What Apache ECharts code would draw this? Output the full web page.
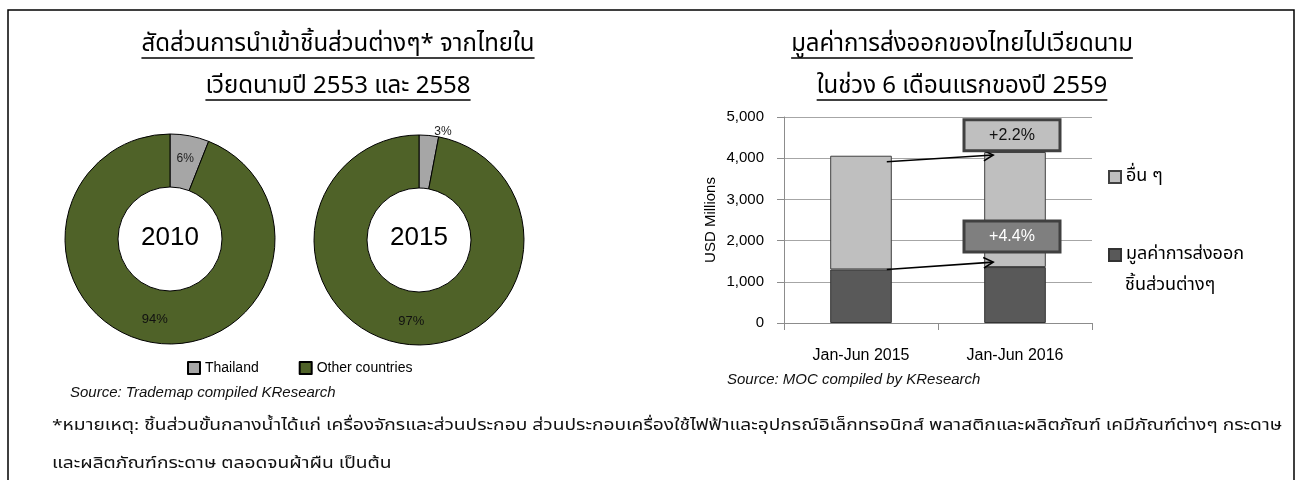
<!DOCTYPE html>
<html>
<head>
<meta charset="utf-8">
<script src="https://cdn.jsdelivr.net/npm/echarts@6/dist/echarts.min.js"></script>
<style>
html,body{margin:0;padding:0;background:#fff;}
#c{width:1298px;height:480px;}
</style>
</head>
<body>
<div id="c"></div>
<script>
// ---------- DATA ----------
const pieYears = ['2010', '2015'];
const pieNames = ['Thailand', 'Other countries'];
const pie2010 = [6, 94];
const pie2015 = [3, 97];
const barCategories = ['Jan-Jun 2015', 'Jan-Jun 2016'];
const partsExports = [1300, 1357];
const otherExports = [2760, 2793];
const barSeriesNames = ['มูลค่าการส่งออก\nชิ้นส่วนต่างๆ', 'อื่น ๆ'];
const growthLabels = ['+2.2%', '+4.4%'];
const leftTitle = ['สัดส่วนการนำเข้าชิ้นส่วนต่างๆ* จากไทยใน', 'เวียดนามปี 2553 และ 2558'];
const rightTitle = ['มูลค่าการส่งออกของไทยไปเวียดนาม', 'ในช่วง 6 เดือนแรกของปี 2559'];
const sourceLeft = 'Source: Trademap compiled KResearch';
const sourceRight = 'Source: MOC compiled by KResearch';
const footnote = ['*หมายเหตุ: ชิ้นส่วนขั้นกลางน้ำได้แก่ เครื่องจักรและส่วนประกอบ ส่วนประกอบเครื่องใช้ไฟฟ้าและอุปกรณ์อิเล็กทรอนิกส์ พลาสติกและผลิตภัณฑ์ เคมีภัณฑ์ต่างๆ กระดาษ',
                  'และผลิตภัณฑ์กระดาษ ตลอดจนผ้าผืน เป็นต้น'];

// ---------- STYLE ----------
const thaiFont = "'Noto Sans Thai','Noto Sans Thai UI','Noto Sans','DejaVu Sans',sans-serif";
const latin = "'Liberation Sans',Arial,sans-serif";
const pieColors = ['#a6a6a6', '#4f6228'];
const darkBar = '#595959', lightBar = '#bfbfbf';

const chart = echarts.init(document.getElementById('c'), null, {renderer: 'canvas'});

function pieSeries(center, values, outsideFirst) {
  return {
    type: 'pie',
    center: center,
    radius: [52, 105],
    startAngle: 90,
    clockwise: true,
    avoidLabelOverlap: false,
    silent: true,
    color: pieColors,
    itemStyle: {borderColor: '#000', borderWidth: 1},
    label: {show: true, position: 'inside', formatter: '{c}%', color: '#111', fontSize: 13, fontFamily: latin},
    labelLine: {show: false},
    emphasis: {disabled: true},
    data: values.map((v, i) => {
      const d = {value: v, name: pieNames[i]};
      if (i === 0) {
        d.label = outsideFirst
          ? {position: 'outside', fontSize: 12, color: '#222'}
          : {fontSize: 12, color: '#222'};
        if (outsideFirst) d.labelLine = {show: false, length: 4, length2: 0};
      }
      return d;
    })
  };
}

chart.setOption({
  animation: false,
  grid: {left: 784, right: 206, top: 117, bottom: 157, containLabel: false},
  legend: [
    {
      data: pieNames, left: 187, top: 361, padding: 0, icon: 'rect', itemWidth: 12, itemHeight: 12, itemGap: 40,
      textStyle: {fontSize: 14, fontFamily: latin, color: '#000'}, selectedMode: false
    },
    {
      data: [barSeriesNames[1]], left: 1108, top: 168, padding: 0, icon: 'rect', itemWidth: 12, itemHeight: 12,
      textStyle: {fontSize: 18, fontFamily: thaiFont, color: '#000'}, selectedMode: false
    },
    {
      data: [barSeriesNames[0]], left: 1108, top: 246, padding: 0, icon: 'rect', itemWidth: 12, itemHeight: 12,
      formatter: n => n.split('\n')[0],
      textStyle: {fontSize: 18, fontFamily: thaiFont, color: '#000'}, selectedMode: false
    }
  ],
  xAxis: {
    type: 'category', data: barCategories,
    axisLine: {lineStyle: {color: '#8c8c8c'}},
    axisTick: {show: true, length: 7, lineStyle: {color: '#8c8c8c'}},
    axisLabel: {fontSize: 16, fontFamily: latin, color: '#000', margin: 25}
  },
  yAxis: {
    type: 'value', min: 0, max: 5000, interval: 1000,
    name: 'USD Millions', nameLocation: 'middle', nameRotate: 90, nameGap: 66,
    nameTextStyle: {fontSize: 15, fontFamily: latin, color: '#000'},
    axisLine: {show: true, lineStyle: {color: '#8c8c8c'}},
    axisTick: {show: true, length: 7, lineStyle: {color: '#8c8c8c'}},
    axisLabel: {fontSize: 15, fontFamily: latin, color: '#000', margin: 20},
    splitLine: {lineStyle: {color: '#a6a6a6'}}
  },
  series: [
    pieSeries([170, 239], pie2010, false),
    pieSeries([419, 240], pie2015, true),
    {
      type: 'bar', name: barSeriesNames[0], stack: 'a', data: partsExports, barWidth: '40%',
      itemStyle: {color: darkBar, borderColor: '#333', borderWidth: 1}, silent: true
    },
    {
      type: 'bar', name: barSeriesNames[1], stack: 'a', data: otherExports, barWidth: '40%',
      itemStyle: {color: lightBar, borderColor: '#404040', borderWidth: 1}, silent: true
    }
  ]
});

// ---------- annotations (positions derived from the library's scales) ----------
function textWidth(t, font) {
  const ctx = document.createElement('canvas').getContext('2d');
  ctx.font = font;
  return ctx.measureText(t).width;
}
function txt(text, x, y, font, align, fill, sx) {
  return {type: 'text', silent: true, z: 20, x: x, y: y, scaleX: sx || 1, style: {
    text: text, x: 0, y: 0, font: font, fill: fill || '#000',
    align: align || 'left', textAlign: align || 'left',
    verticalAlign: 'middle', textVerticalAlign: 'middle'}};
}
const g = [];
// outer frame
g.push({type: 'rect', silent: true, z: 0, shape: {x: 8, y: 10, width: 1286, height: 500},
        style: {fill: 'none', stroke: '#000', lineWidth: 1.5}});
// titles with underline
const titleFont = "24px " + thaiFont;
function underlinedTitle(lines, cx) {
  lines.forEach((t, i) => {
    const y = 46 + i * 42;
    g.push(txt(t, cx, y, titleFont, 'center'));
    const w = textWidth(t, titleFont);
    g.push({type: 'line', silent: true, z: 20, shape: {x1: cx - w / 2, y1: y + 12, x2: cx + w / 2, y2: y + 12},
            style: {stroke: '#000', lineWidth: 1.3}});
  });
}
underlinedTitle(leftTitle, 338);
underlinedTitle(rightTitle, 962);
// donut centre years
g.push(txt(pieYears[0], 170, 238, "26px " + latin, 'center'));
g.push(txt(pieYears[1], 419, 238, "26px " + latin, 'center'));
// legend second line for the parts series
g.push(txt(barSeriesNames[0].split('\n')[1], 1125, 286, "18px " + thaiFont, 'left'));
// sources
g.push(txt(sourceLeft, 70, 393, "italic 15px " + latin, 'left', '#111'));
g.push(txt(sourceRight, 727, 380, "italic 15px " + latin, 'left', '#111'));
// footnote (stretched to the reference line length)
const fnFont = "15px " + thaiFont;
const fnScale = 1230 / textWidth(footnote[0], fnFont);
g.push(txt(footnote[0], 52, 427, fnFont, 'left', '#111', fnScale));
g.push(txt(footnote[1], 52, 465, fnFont, 'left', '#111', fnScale));

// bar-linked arrows & growth boxes
const p = (i, v) => chart.convertToPixel({gridIndex: 0}, [i, v]);
const band = p(1, 0)[0] - p(0, 0)[0];
const half = band * 0.4 / 2;
const tot0 = partsExports[0] + otherExports[0];
const tot1 = partsExports[1] + otherExports[1];
function arrow(x1, y1, x2, y2) {
  const a = Math.atan2(y2 - y1, x2 - x1), L = 11, s = 0.5;
  g.push({type: 'line', silent: true, z: 15, shape: {x1, y1, x2, y2}, style: {stroke: '#000', lineWidth: 1.6}});
  g.push({type: 'polyline', silent: true, z: 15, shape: {points: [
      [x2 - L * Math.cos(a - s), y2 - L * Math.sin(a - s)], [x2, y2],
      [x2 - L * Math.cos(a + s), y2 - L * Math.sin(a + s)]]},
    style: {stroke: '#000', lineWidth: 1.6, fill: 'none'}});
}
const xa = p(0, 0)[0] + half - 5, xb = p(1, 0)[0] - half + 9;
arrow(xa, p(0, tot0)[1] + 6, xb, p(1, tot1)[1] + 3);
arrow(xa, p(0, partsExports[0])[1], xb, p(1, partsExports[1])[1] - 5);
function box(label, cx, cy, fill, color) {
  const w = 96, h = 31;
  g.push({type: 'rect', silent: true, z: 16, shape: {x: cx - w / 2, y: cy - h / 2, width: w, height: h},
          style: {fill: fill, stroke: '#404040', lineWidth: 3}});
  g.push(txt(label, cx, cy, "16px " + latin, 'center', color));
}
box(growthLabels[0], p(1, 0)[0] - 3, p(1, 4560)[1], '#bfbfbf', '#111');
box(growthLabels[1], p(1, 0)[0] - 3, p(1, 2100)[1], '#7f7f7f', '#fff');

chart.setOption({graphic: g});
</script>
</body>
</html>
